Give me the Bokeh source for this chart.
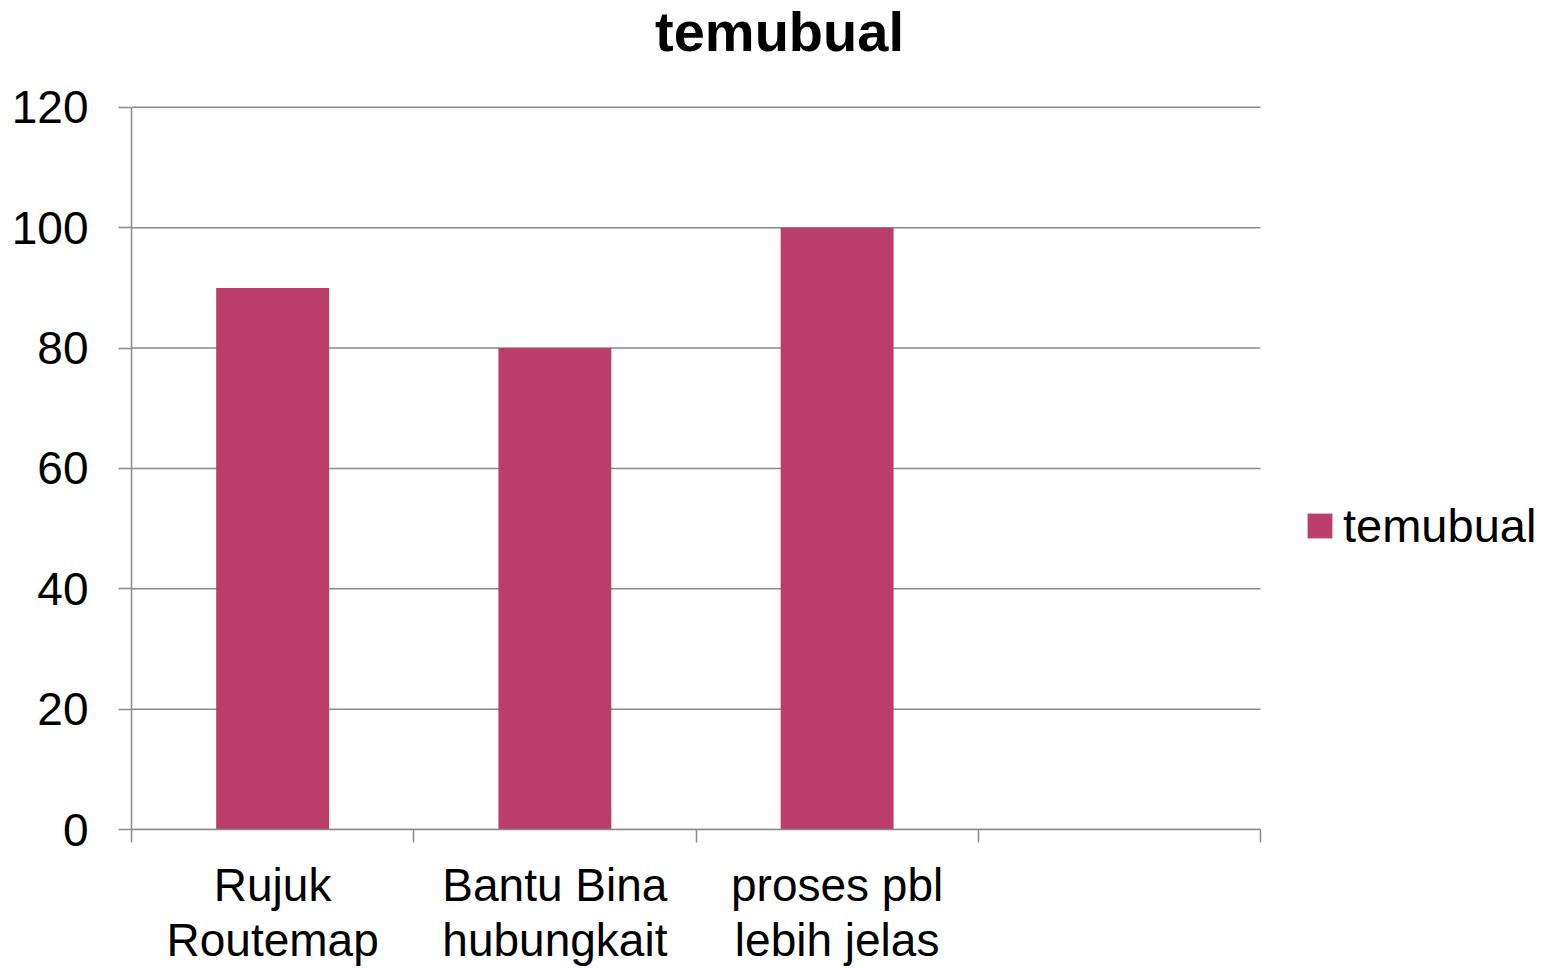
from bokeh.plotting import figure
from bokeh.models import (Range1d, LinearAxis, FixedTicker, Legend, LegendItem,
                          ColumnDataSource, Label)
from bokeh.embed import file_html
from bokeh.resources import INLINE

# ---- data ----
categories = ["Rujuk\nRoutemap", "Bantu Bina\nhubungkait", "proses pbl\nlebih jelas", ""]
series_name = "temubual"
chart_title = "temubual"
values = [90, 80, 100]
y_ticks = [0, 20, 40, 60, 80, 100, 120]

BAR_COLOR = "#BA3E69"
GRID = "#8a8a8a"
FONT = "Liberation Sans"

# ---- layout (pixels) ----
W, H = 1550, 969
LEFT, BOTTOM = 131, 830          # axis origin on the page
PLOT_RIGHT, PLOT_TOP = 1260, 107  # end of the category axis / top tick
n = len(categories)
y_max = y_ticks[-1]
x_end = n * (W - LEFT) / (PLOT_RIGHT - LEFT)
y_end = y_max * BOTTOM / (BOTTOM - PLOT_TOP)

centers = [i + 0.5 for i in range(len(values))]
src = ColumnDataSource(dict(x=centers, top=values))

p = figure(width=W, height=H, output_backend="svg", toolbar_location=None,
           x_range=Range1d(0, x_end), y_range=Range1d(0, y_end),
           min_border_left=LEFT, min_border_right=0, min_border_top=0,
           min_border_bottom=H - BOTTOM, x_axis_type=None, y_axis_type=None)
p.outline_line_color = None
p.background_fill_color = "white"
p.border_fill_color = "white"
p.xgrid.visible = False
p.ygrid.visible = False

# horizontal grid lines, limited to the category area
p.segment(x0=[0] * len(y_ticks), x1=[n] * len(y_ticks), y0=y_ticks, y1=y_ticks,
          line_color=GRID, line_width=1.5)

r = p.vbar(x="x", top="top", width=0.4, bottom=0, source=src,
           fill_color=BAR_COLOR, line_color=None)

# y axis
yax = LinearAxis(ticker=FixedTicker(ticks=y_ticks), bounds=(0, y_max))
yax.axis_line_color = GRID
yax.axis_line_width = 1.5
yax.major_tick_line_color = GRID
yax.major_tick_line_width = 1.5
yax.major_tick_out = 13
yax.major_tick_in = 0
yax.minor_tick_line_color = None
yax.major_label_text_font = FONT
yax.major_label_text_font_size = "46px"
yax.major_label_text_color = "black"
yax.major_label_standoff = 30
p.add_layout(yax, "left")

# x axis: boundary ticks
xax = LinearAxis(ticker=FixedTicker(ticks=list(range(n + 1))), bounds=(0, n))
xax.axis_line_color = GRID
xax.axis_line_width = 1.5
xax.major_tick_line_color = GRID
xax.major_tick_line_width = 1.5
xax.major_tick_out = 13
xax.major_tick_in = 0
xax.minor_tick_line_color = None
xax.major_label_text_alpha = 0
xax.major_label_text_font_size = "1px"
xax.major_label_standoff = 0
p.add_layout(xax, "below")

# x axis labels: category centres
xlab = LinearAxis(ticker=FixedTicker(ticks=[i + 0.5 for i in range(n)]))
xlab.axis_line_color = None
xlab.major_tick_line_color = None
xlab.minor_tick_line_color = None
xlab.major_label_overrides = {i + 0.5: c for i, c in enumerate(categories)}
xlab.major_label_text_font = FONT
xlab.major_label_text_font_size = "46px"
xlab.major_label_text_color = "black"
xlab.major_label_text_line_height = 1.07
xlab.major_label_standoff = 10
p.add_layout(xlab, "below")

# title
title = Label(x=779 - LEFT, y=BOTTOM - 32, x_units="screen", y_units="screen",
              text=chart_title, text_font=FONT, text_font_style="bold",
              text_font_size="56px", text_color="black",
              text_align="center", text_baseline="alphabetic")
p.add_layout(title)

legend = Legend(items=[LegendItem(label=series_name, renderers=[r])],
                location=(1304 - LEFT, 276))
legend.label_text_font = FONT
legend.label_text_font_size = "47px"
legend.label_text_color = "black"
legend.glyph_width = 31
legend.glyph_height = 31
legend.border_line_color = None
legend.background_fill_alpha = 0
legend.padding = 0
legend.margin = 0
legend.label_standoff = 8
p.add_layout(legend)

open("out.html", "w").write(file_html(p, INLINE))
